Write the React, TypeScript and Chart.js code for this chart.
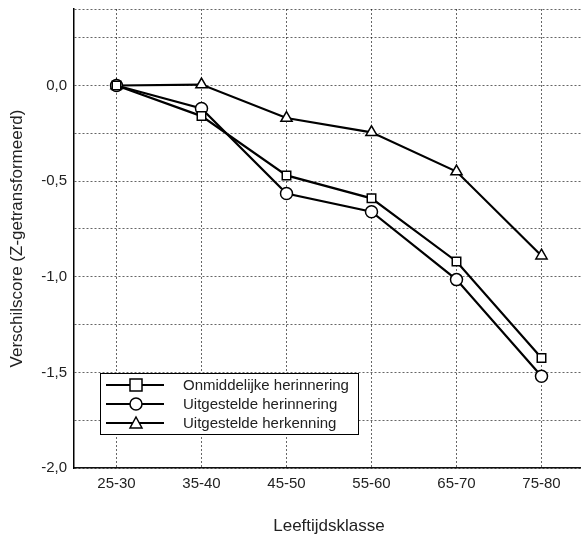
import React, { useEffect, useRef } from "react";
import { Chart, registerables } from "chart.js";

Chart.register(...registerables);

const categories = ["25-30", "35-40", "45-50", "55-60", "65-70", "75-80"];
const onmiddelijkeHerinnering = [0, -0.16, -0.47, -0.59, -0.92, -1.425];
const uitgesteldeHerinnering = [0, -0.12, -0.565, -0.66, -1.015, -1.52];
const uitgesteldeHerkenning = [0, 0.005, -0.17, -0.245, -0.45, -0.89];
const seriesNames = [
  "Onmiddelijke herinnering",
  "Uitgestelde herinnering",
  "Uitgestelde herkenning",
];
const pointStyles = ["rect", "circle", "triangle"];
const yTitle = "Verschilscore (Z-getransformeerd)";
const xTitle = "Leeftijdsklasse";

const FONT = "'Liberation Sans', Arial, sans-serif";

const legendPlugin = {
  id: "insideLegend",
  afterDraw(chart: any) {
    const ctx = chart.ctx;
    const left = 100.5;
    const top = 373.5;
    const w = 258;
    const h = 61;
    ctx.save();
    ctx.fillStyle = "#fff";
    ctx.fillRect(left, top, w, h);
    ctx.strokeStyle = "#000";
    ctx.lineWidth = 1;
    ctx.strokeRect(left, top, w, h);
    const rows = [385, 404, 423];
    ctx.font = `15px ${FONT}`;
    ctx.textBaseline = "middle";
    rows.forEach((y, i) => {
      ctx.strokeStyle = "#000";
      ctx.lineWidth = 2;
      ctx.beginPath();
      ctx.moveTo(106, y);
      ctx.lineTo(164, y);
      ctx.stroke();
      ctx.fillStyle = "#fff";
      ctx.lineWidth = 1.5;
      ctx.beginPath();
      if (pointStyles[i] === "rect") {
        ctx.rect(130, y - 6, 12, 12);
      } else if (pointStyles[i] === "circle") {
        ctx.arc(136, y, 6, 0, Math.PI * 2);
      } else {
        ctx.moveTo(136, y - 6);
        ctx.lineTo(142, y + 5);
        ctx.lineTo(130, y + 5);
        ctx.closePath();
      }
      ctx.fill();
      ctx.stroke();
      ctx.fillStyle = "#222";
      ctx.fillText(seriesNames[i], 183, y + 1);
    });
    ctx.restore();
  },
};

export default function App() {
  const ref = useRef<HTMLCanvasElement | null>(null);
  useEffect(() => {
    document.body.style.margin = "0";
    if (!ref.current) return;
    const mk = (label: string, data: number[], style: string) => ({
      label,
      data,
      borderColor: "#000",
      borderWidth: 2.2,
      backgroundColor: "#fff",
      pointStyle: style,
      pointRadius: style === "triangle" ? 6.5 : 6,
      pointBorderWidth: 1.5,
      pointBackgroundColor: "#fff",
      pointBorderColor: "#000",
      tension: 0,
    });
    const chart = new Chart(ref.current, {
      type: "line",
      data: {
        labels: categories,
        datasets: [
          mk(seriesNames[0], onmiddelijkeHerinnering, pointStyles[0]),
          mk(seriesNames[1], uitgesteldeHerinnering, pointStyles[1]),
          mk(seriesNames[2], uitgesteldeHerkenning, pointStyles[2]),
        ],
      },
      options: {
        animation: false,
        responsive: false,
        devicePixelRatio: 1,
        layout: { padding: { top: 9, right: 0, left: 0, bottom: 0 } },
        plugins: {
          legend: { display: false },
          tooltip: { enabled: false },
        },
        scales: {
          x: {
            type: "category",
            offset: true,
            grid: {
              offset: false,
              color: "rgba(0,0,0,0.6)",
              lineWidth: 1,
              drawTicks: false,
            },
            border: { display: true, color: "#111", width: 1.5, dash: [2, 2] },
            ticks: {
              color: "#222",
              font: { family: FONT, size: 15 },
              padding: 7,
              maxRotation: 0,
            },
            title: {
              display: true,
              text: xTitle,
              color: "#222",
              font: { family: FONT, size: 17 },
              padding: { top: 0, bottom: 0 },
            },
            afterFit(scale: any) {
              scale.height = 69;
              scale.paddingLeft = 0;
              scale.paddingRight = 0;
            },
          },
          y: {
            min: -2,
            max: 0.4,
            grid: {
              color: "rgba(0,0,0,0.6)",
              lineWidth: 1,
              drawTicks: false,
            },
            border: { display: true, color: "#000", width: 1.5, dash: [2, 2] },
            ticks: {
              stepSize: 0.25,
              autoSkip: false,
              color: "#222",
              font: { family: FONT, size: 15 },
              padding: 7,
              callback: (v: any) => {
                const n = Number(v);
                if (Math.abs(n * 2 - Math.round(n * 2)) > 1e-6) return "";
                const s = Math.abs(n) < 1e-9 ? "0.0" : n.toFixed(1);
                return s.replace(".", ",");
              },
            },
            title: {
              display: true,
              text: yTitle,
              color: "#222",
              font: { family: FONT, size: 17 },
              padding: { top: 7, bottom: 0 },
            },
            afterFit(scale: any) {
              scale.width = 74;
              scale.paddingTop = 0;
              scale.paddingBottom = 0;
            },
          },
        },
      },
      plugins: [legendPlugin],
    } as any);
    return () => chart.destroy();
  }, []);
  return (
    <div
      style={{
        position: "fixed",
        left: 0,
        top: 0,
        width: 581,
        height: 537,
        overflow: "hidden",
        background: "#fff",
      }}
    >
      <canvas ref={ref} width={592} height={537} style={{ width: 592, height: 537, display: "block" }} />
    </div>
  );
}
